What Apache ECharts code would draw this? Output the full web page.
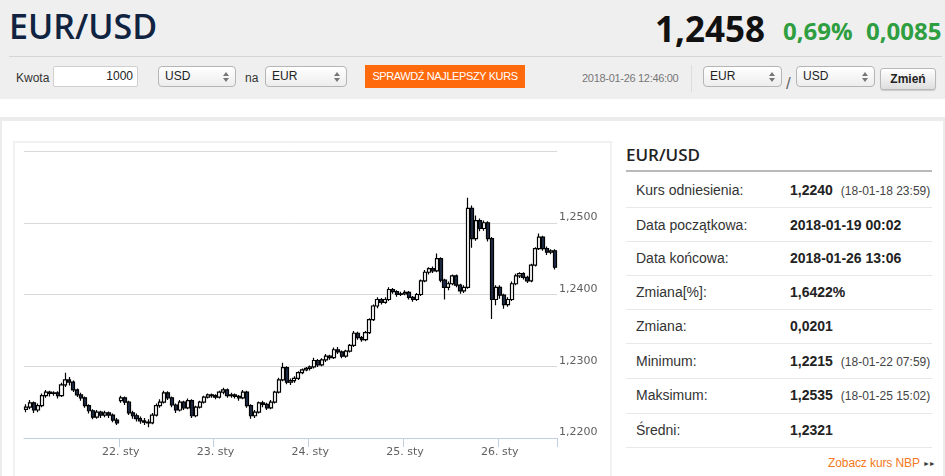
<!DOCTYPE html>
<html><head><meta charset="utf-8">
<script src="https://cdn.jsdelivr.net/npm/echarts/dist/echarts.min.js"></script>
<style>
html,body{margin:0;padding:0;}
body{width:945px;height:476px;overflow:hidden;position:relative;background:#fff;font-family:"Liberation Sans",Arial,sans-serif;color:#333;}
.a{position:absolute;white-space:nowrap;}
.os{font-family:"Open Sans",sans-serif;font-weight:600;}
.sel{position:absolute;top:66px;box-sizing:border-box;height:21px;border:1px solid #b5b5b5;border-radius:4px;background:linear-gradient(#ffffff,#ededed);font-size:12px;line-height:19px;padding-left:6px;color:#222;}
.sel .up{position:absolute;right:6px;top:5px;width:0;height:0;border-left:3px solid transparent;border-right:3px solid transparent;border-bottom:4px solid #777;}
.sel .dn{position:absolute;right:6px;top:11px;width:0;height:0;border-left:3px solid transparent;border-right:3px solid transparent;border-top:4px solid #777;}
.lbl{position:absolute;left:636px;font-size:14px;line-height:14px;color:#333;white-space:nowrap;}
.val{position:absolute;left:790px;font-size:14px;line-height:14px;font-weight:bold;color:#222;white-space:nowrap;}
.note{font-weight:normal;font-size:12px;color:#444;margin-left:8px;}
.sep{position:absolute;left:626px;width:306px;height:1px;background:#e8e8e8;}
</style></head>
<body>
<div class="a" style="left:0;top:0;width:945px;height:99px;background:#efefef;"></div>
<div class="a os" style="left:9px;top:9px;font-size:34px;line-height:34px;color:#102341;">EUR/USD</div>
<div class="a os" style="left:655px;top:11px;font-size:35px;line-height:35px;color:#111;font-weight:700;">1,2458</div>
<div class="a os" style="left:783px;top:19px;font-size:24px;line-height:24px;color:#2e9e40;font-weight:700;">0,69%</div>
<div class="a os" style="left:866px;top:19px;font-size:24px;line-height:24px;color:#2e9e40;font-weight:700;">0,0085</div>
<div class="a" style="left:9px;top:56px;width:933px;height:1px;background:#d6d6d6;"></div>

<div class="a" style="left:16px;top:72px;font-size:12px;line-height:12px;color:#333;">Kwota</div>
<div class="a" style="left:53px;top:66px;width:85px;height:21px;box-sizing:border-box;border:1px solid #cfcfcf;border-radius:2px;background:#fff;font-size:12px;line-height:19px;text-align:right;padding-right:4px;color:#222;">1000</div>
<div class="sel" style="left:158px;width:78px;">USD<span class="up"></span><span class="dn"></span></div>
<div class="a" style="left:245px;top:72px;font-size:12px;line-height:12px;color:#333;">na</div>
<div class="sel" style="left:265px;width:82px;">EUR<span class="up"></span><span class="dn"></span></div>
<div class="a" style="left:365px;top:65px;width:160px;height:23px;background:#ff6a0d;color:#fff;font-size:11px;line-height:23px;text-align:center;letter-spacing:-0.4px;">SPRAWDŹ NAJLEPSZY KURS</div>
<div class="a" style="left:582px;top:73px;font-size:11px;line-height:11px;color:#777;letter-spacing:-0.3px;">2018-01-26 12:46:00</div>
<div class="a" style="left:691px;top:65px;width:1px;height:27px;background:#dcdcdc;"></div>
<div class="sel" style="left:703px;width:79px;">EUR<span class="up"></span><span class="dn"></span></div>
<div class="a" style="left:786px;top:75px;font-size:17px;line-height:17px;color:#666;">/</div>
<div class="sel" style="left:796px;width:79px;">USD<span class="up"></span><span class="dn"></span></div>
<div class="a" style="left:880px;top:68px;width:56px;height:22px;box-sizing:border-box;border:1px solid #b8b8b8;border-radius:3px;background:linear-gradient(#ffffff,#dedede);box-shadow:0 1px 1px rgba(0,0,0,0.15);font-size:12px;line-height:20px;font-weight:bold;text-align:center;color:#222;">Zmień</div>

<div class="a" style="left:0;top:117px;width:945px;height:4px;background:#ececec;"></div>
<div class="a" style="left:0;top:121px;width:2px;height:355px;background:#ececec;"></div>
<div class="a" style="left:943px;top:121px;width:2px;height:355px;background:#ececec;"></div>
<div class="a" style="left:13px;top:141px;width:595px;height:340px;border:2px solid #f1f1f1;"></div>
<div id="chart" class="a" style="left:14px;top:142px;width:598px;height:334px;"></div>

<div class="a os" style="left:626px;top:146px;font-size:17px;line-height:17px;color:#222;">EUR/USD</div>
<div class="a" style="left:626px;top:170px;width:306px;height:2px;background:#b9b9b9;"></div>
<div id="table"></div>
<div class="a" style="left:828px;top:457px;font-size:12px;line-height:12px;color:#f47920;letter-spacing:-0.1px;">Zobacz kurs NBP <span style="font-size:7px;color:#333;letter-spacing:-1px;position:relative;top:-1px;">►►</span></div>

<script>
// ---- table data ----
const rowLabels = ['Kurs odniesienia:','Data początkowa:','Data końcowa:','Zmiana[%]:','Zmiana:','Minimum:','Maksimum:','Średni:'];
const rowValues = ['1,2240','2018-01-19 00:02','2018-01-26 13:06','1,6422%','0,0201','1,2215','1,2535','1,2321'];
const rowNotes  = ['(18-01-18 23:59)','','','','','(18-01-22 07:59)','(18-01-25 15:02)',''];

// ---- chart data: hourly candles [open, close, low, high] ----
const days = ['19','22','23','24','25','26'];
const dayTickLabels = ['19. sty','22. sty','23. sty','24. sty','25. sty','26. sty'];
const day19 = [
[1.2240,1.2243,1.2236,1.2247],[1.2243,1.2249,1.2240,1.2253],[1.2249,1.2239,1.2235,1.2251],[1.2239,1.2245,1.2236,1.2248],
[1.2245,1.2259,1.2243,1.2262],[1.2259,1.2264,1.2256,1.2267],[1.2264,1.2262,1.2258,1.2266],[1.2262,1.2263,1.2259,1.2265],
[1.2263,1.2259,1.2255,1.2265],[1.2259,1.2274,1.2257,1.2277],[1.2274,1.2281,1.2271,1.2291],[1.2281,1.2278,1.2273,1.2285],
[1.2278,1.2267,1.2264,1.2280],[1.2267,1.2260,1.2257,1.2269],[1.2260,1.2256,1.2252,1.2263],[1.2256,1.2245,1.2242,1.2258],
[1.2245,1.2238,1.2234,1.2247],[1.2238,1.2229,1.2226,1.2240],[1.2229,1.2236,1.2227,1.2239],[1.2236,1.2232,1.2228,1.2238],
[1.2232,1.2235,1.2229,1.2238],[1.2235,1.2232,1.2228,1.2237],[1.2232,1.2225,1.2222,1.2234],[1.2225,1.2221,1.2218,1.2228]];
const day22 = [
[1.2252,1.2256,1.2249,1.2259],[1.2256,1.2250,1.2246,1.2258],[1.2250,1.2235,1.2232,1.2252],[1.2235,1.2231,1.2227,1.2238],
[1.2231,1.2227,1.2223,1.2234],[1.2227,1.2224,1.2220,1.2230],[1.2224,1.2222,1.2218,1.2228],[1.2222,1.2221,1.2215,1.2226],
[1.2221,1.2232,1.2219,1.2235],[1.2232,1.2245,1.2230,1.2248],[1.2245,1.2250,1.2242,1.2254],[1.2250,1.2263,1.2248,1.2266],
[1.2263,1.2256,1.2253,1.2265],[1.2256,1.2246,1.2243,1.2258],[1.2246,1.2239,1.2235,1.2248],[1.2239,1.2250,1.2237,1.2253],
[1.2250,1.2242,1.2239,1.2252],[1.2242,1.2252,1.2240,1.2255],[1.2252,1.2231,1.2228,1.2254],[1.2231,1.2243,1.2229,1.2245],
[1.2243,1.2250,1.2241,1.2252],[1.2250,1.2257,1.2248,1.2259],[1.2257,1.2260,1.2255,1.2262],[1.2260,1.2259,1.2256,1.2262]];
const day23 = [
[1.2259,1.2257,1.2254,1.2261],[1.2257,1.2264,1.2255,1.2266],[1.2264,1.2267,1.2261,1.2270],[1.2267,1.2259,1.2256,1.2269],
[1.2259,1.2260,1.2256,1.2263],[1.2260,1.2258,1.2255,1.2262],[1.2258,1.2256,1.2252,1.2260],[1.2256,1.2264,1.2254,1.2267],
[1.2264,1.2245,1.2242,1.2266],[1.2245,1.2231,1.2227,1.2247],[1.2231,1.2236,1.2228,1.2239],[1.2236,1.2249,1.2234,1.2251],
[1.2249,1.2247,1.2243,1.2252],[1.2247,1.2242,1.2239,1.2249],[1.2242,1.2250,1.2240,1.2253],[1.2250,1.2264,1.2248,1.2266],
[1.2264,1.2281,1.2262,1.2284],[1.2281,1.2298,1.2279,1.2305],[1.2298,1.2278,1.2275,1.2300],[1.2278,1.2280,1.2274,1.2283],
[1.2280,1.2283,1.2277,1.2286],[1.2283,1.2291,1.2281,1.2293],[1.2291,1.2295,1.2289,1.2297],[1.2295,1.2297,1.2293,1.2299]];
const day24 = [
[1.2297,1.2299,1.2294,1.2301],[1.2299,1.2308,1.2297,1.2312],[1.2308,1.2302,1.2299,1.2310],[1.2302,1.2309,1.2300,1.2311],
[1.2309,1.2314,1.2306,1.2317],[1.2314,1.2312,1.2309,1.2316],[1.2312,1.2323,1.2310,1.2326],[1.2323,1.2320,1.2317,1.2327],
[1.2320,1.2314,1.2311,1.2322],[1.2314,1.2321,1.2312,1.2323],[1.2321,1.2329,1.2319,1.2331],[1.2329,1.2346,1.2327,1.2349],
[1.2346,1.2340,1.2337,1.2348],[1.2340,1.2337,1.2334,1.2342],[1.2337,1.2347,1.2335,1.2349],[1.2347,1.2365,1.2345,1.2367],
[1.2365,1.2384,1.2363,1.2386],[1.2384,1.2393,1.2381,1.2396],[1.2393,1.2389,1.2386,1.2395],[1.2389,1.2393,1.2387,1.2396],
[1.2393,1.2407,1.2391,1.2410],[1.2407,1.2404,1.2401,1.2409],[1.2404,1.2400,1.2397,1.2406],[1.2400,1.2401,1.2398,1.2404]];
const day25 = [
[1.2401,1.2403,1.2399,1.2406],[1.2403,1.2396,1.2393,1.2405],[1.2396,1.2393,1.2390,1.2398],[1.2393,1.2400,1.2391,1.2402],
[1.2400,1.2419,1.2398,1.2421],[1.2419,1.2431,1.2417,1.2434],[1.2431,1.2436,1.2428,1.2438],[1.2436,1.2433,1.2430,1.2439],
[1.2433,1.2450,1.2431,1.2457],[1.2450,1.2420,1.2417,1.2452],[1.2420,1.2410,1.2393,1.2422],[1.2410,1.2415,1.2406,1.2418],
[1.2415,1.2426,1.2413,1.2428],[1.2426,1.2413,1.2410,1.2428],[1.2413,1.2405,1.2401,1.2415],[1.2405,1.2410,1.2402,1.2413],
[1.2410,1.2520,1.2408,1.2535],[1.2520,1.2478,1.2465,1.2524],[1.2478,1.2503,1.2475,1.2510],[1.2503,1.2492,1.2488,1.2506],
[1.2492,1.2500,1.2489,1.2503],[1.2500,1.2478,1.2474,1.2502],[1.2478,1.2393,1.2366,1.2480],[1.2393,1.2410,1.2385,1.2413]];
const day26 = [
[1.2410,1.2399,1.2394,1.2413],[1.2399,1.2386,1.2380,1.2401],[1.2386,1.2393,1.2383,1.2396],[1.2393,1.2415,1.2391,1.2418],
[1.2415,1.2426,1.2413,1.2429],[1.2426,1.2429,1.2423,1.2431],[1.2429,1.2424,1.2421,1.2431],[1.2424,1.2419,1.2416,1.2426],
[1.2419,1.2441,1.2417,1.2443],[1.2441,1.2464,1.2439,1.2466],[1.2464,1.2480,1.2462,1.2485],[1.2480,1.2464,1.2461,1.2482],
[1.2464,1.2459,1.2455,1.2467],[1.2459,1.2461,1.2456,1.2463],[1.2461,1.2438,1.2435,1.2463]];
const yTicks = {min:1.22, max:1.26, interval:0.01};

// ---- build table ----
(function(){
  const baselines = [195,230,263,297,331,366,400,435];
  const seps = [207,241,275,309,343,378,413,447];
  let html = '';
  rowLabels.forEach((l,i)=>{
    const top = baselines[i]-12;
    html += '<div class="lbl" style="top:'+top+'px">'+l+'</div>';
    html += '<div class="val" style="top:'+top+'px">'+rowValues[i]+(rowNotes[i]?'<span class="note">'+rowNotes[i]+'</span>':'')+'</div>';
    html += '<div class="sep" style="top:'+seps[i]+'px"></div>';
  });
  document.getElementById('table').innerHTML = html;
})();

// ---- build chart ----
const dayData = [day19, day22, day23, day24, day25, day26];
const categories = [];
const candles = [];
dayData.forEach((arr,di)=>{
  arr.forEach((c,h)=>{
    categories.push(days[di]+'.01 '+(h<10?'0'+h:h)+':00');
    candles.push(c);
  });
});
const isDayStart = (idx,val)=> idx>0 && String(val).slice(-5)==='00:00';

const chart = echarts.init(document.getElementById('chart'), null, {renderer:'canvas'});
chart.setOption({
  animation:false,
  grid:{left:10, right:55, top:9, bottom:38},
  xAxis:{
    type:'category', data:categories, boundaryGap:true,
    axisLine:{lineStyle:{color:'#C0D0E0', width:1}},
    axisTick:{show:true, interval:isDayStart, length:9, lineStyle:{color:'#C0D0E0'}},
    axisLabel:{interval:isDayStart, margin:9, color:'#606060', fontSize:11, fontFamily:'DejaVu Sans',
      formatter:(v)=>{const d=days.indexOf(String(v).slice(0,2)); return d>=0?dayTickLabels[d]:'';}},
    splitLine:{show:false}
  },
  yAxis:{
    type:'value', position:'right', min:yTicks.min, max:yTicks.max, interval:yTicks.interval,
    axisLine:{show:false}, axisTick:{show:false},
    splitLine:{lineStyle:{color:'#D9D9D9', width:1}},
    axisLabel:{margin:2, verticalAlign:'bottom', color:'#606060', fontSize:11, fontFamily:'DejaVu Sans',
      formatter:(v)=>{const s=v.toFixed(4); return s==='1.2600'?'':s.replace('.',',');}}
  },
  series:[{
    type:'candlestick', data:candles, barWidth:'90%',
    itemStyle:{color:'#ffffff', color0:'#1d2c47', borderColor:'#000000', borderColor0:'#000000', borderWidth:1.2}
  }]
});
</script>
</body></html>
